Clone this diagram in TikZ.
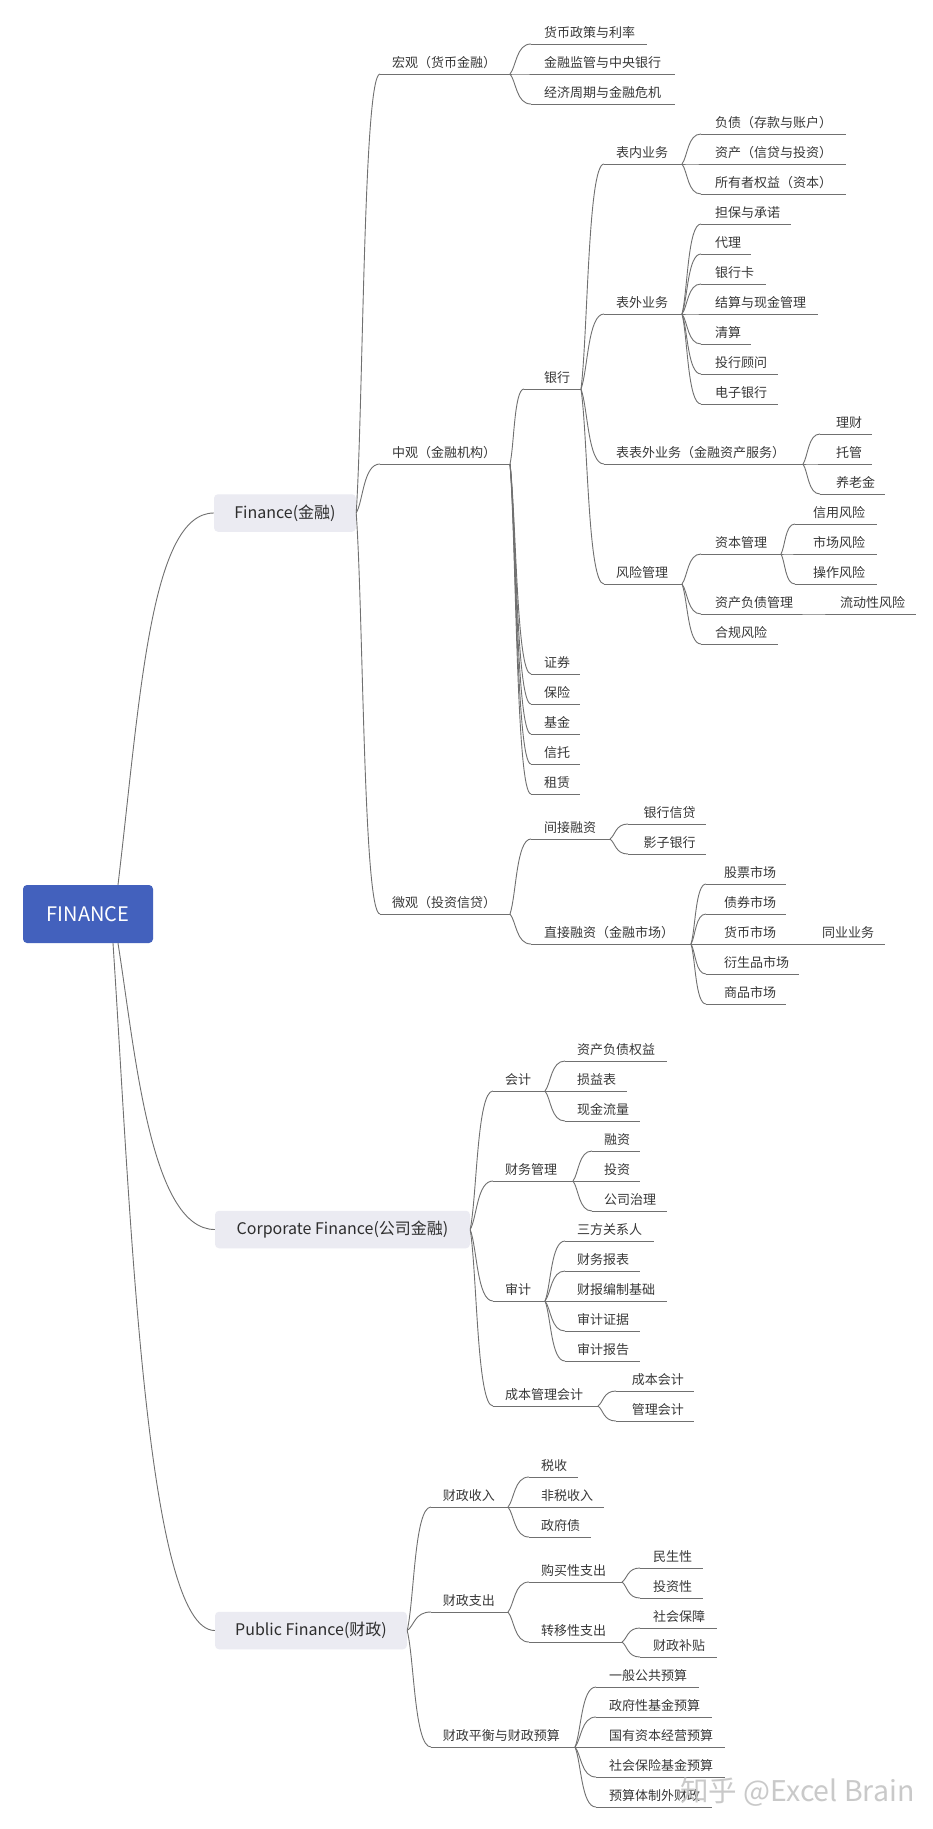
\documentclass[tikz,border=0pt]{standalone}
\usepackage{fontspec}
\setmainfont{Noto Sans CJK SC}
\usetikzlibrary{calc}
\definecolor{lnc}{HTML}{707070}
\definecolor{txc}{HTML}{383838}
\definecolor{rootc}{HTML}{4361BD}
\definecolor{boxc}{HTML}{EBEBF2}
\definecolor{wmc}{HTML}{C4C4C4}
\tikzset{
  txtsty/.style={font=\fontsize{13}{15}\selectfont, text=txc, inner sep=0pt},
  ulsty/.style={draw=lnc, line width=0.9pt},
  consty/.style={draw=lnc, line width=0.9pt},
  rootsty/.style={fill=rootc, rounded corners=4pt, minimum width=130pt, minimum height=58pt,
    text=white, font=\fontsize{20}{24}\selectfont, inner sep=0pt},
  boxsty/.style={fill=boxc, rounded corners=4pt, minimum height=37.5pt,
    text=txc!80!black, font=\fontsize{16}{19}\selectfont, inner sep=0pt}
}
% name, left x, underline y, right x, text x, text
\newcommand\mnode[6]{%
  \coordinate (#1L) at (#2,#3);
  \coordinate (#1R) at (#4,#3);
  \node[txtsty, anchor=base west] (#1) at (#5,#3-6.5) {#6};
  \draw[ulsty] (#1L) -- (#1R);
}
\newcommand\mconn[2]{%
  \draw[consty] let \p1=(#1R), \p2=(#2L) in
    (\p1) .. controls ({\x1+0.3*(\x2-\x1)},{\y1+0.25*(\y2-\y1)}) and ({\x1+0.3*(\x2-\x1)},{\y2}) .. (\p2);
}
\begin{document}
\begin{tikzpicture}[x=1pt, y=-1pt]
\useasboundingbox (0,0) rectangle (933,1829);
\fill[white] (0,0) rectangle (933,1829);

% main boxes
\node[rootsty] (root) at (88,914) {FINANCE};
\node[boxsty, minimum width=142pt] (fin) at (285,513) {Finance(金融)};
\node[boxsty, minimum width=255pt] (corp) at (342.5,1229.5) {Corporate Finance(公司金融)};
\node[boxsty, minimum width=192pt] (pub) at (311,1630.5) {Public Finance(财政)};
\coordinate (finR) at (fin.east);
\coordinate (corpR) at (corp.east);
\coordinate (pubR) at (pub.east);

\draw[consty] ([xshift=30pt]root.north) .. controls (140,700) and (150,513) .. (fin.west);
\draw[consty] ([xshift=30pt]root.south) .. controls (135,1050) and (150,1229.5) .. (corp.west);
\draw[consty] ([xshift=25pt]root.south) .. controls (130,1200) and (145,1630.5) .. (pub.west);

% ---------- Finance ----------
\mnode{macro}{380}{74}{510}{392}{宏观（货币金融）}
\mnode{meso}{380}{464}{510}{392}{中观（金融机构）}
\mnode{micro}{380}{914}{510}{392}{微观（投资信贷）}
\mconn{fin}{macro}\mconn{fin}{meso}\mconn{fin}{micro}

\mnode{ma}{531}{44}{647}{544}{货币政策与利率}
\mnode{mb}{531}{74}{675}{544}{金融监管与中央银行}
\mnode{mc}{531}{104}{675}{544}{经济周期与金融危机}
\mconn{macro}{ma}\mconn{macro}{mb}\mconn{macro}{mc}

\mnode{bank}{524}{389}{581}{544}{银行}
\mnode{sec}{531}{674}{580}{544}{证券}
\mnode{ins}{531}{704}{580}{544}{保险}
\mnode{fund}{531}{734}{580}{544}{基金}
\mnode{trust}{531}{764}{580}{544}{信托}
\mnode{lease}{531}{794}{580}{544}{租赁}
\mconn{meso}{bank}\mconn{meso}{sec}\mconn{meso}{ins}\mconn{meso}{fund}\mconn{meso}{trust}\mconn{meso}{lease}

\mnode{onb}{604}{164}{682}{616}{表内业务}
\mnode{offb}{604}{314}{682}{616}{表外业务}
\mnode{offo}{604}{464}{803}{616}{表表外业务（金融资产服务）}
\mnode{risk}{604}{584}{682}{616}{风险管理}
\mconn{bank}{onb}\mconn{bank}{offb}\mconn{bank}{offo}\mconn{bank}{risk}

\mnode{oa}{701}{134}{846}{715}{负债（存款与账户）}
\mnode{ob}{701}{164}{846}{715}{资产（信贷与投资）}
\mnode{oc}{701}{194}{846}{715}{所有者权益（资本）}
\mconn{onb}{oa}\mconn{onb}{ob}\mconn{onb}{oc}

\mnode{fa}{701}{224}{791}{715}{担保与承诺}
\mnode{fb}{701}{254}{751}{715}{代理}
\mnode{fc}{701}{284}{766}{715}{银行卡}
\mnode{fd}{701}{314}{818}{715}{结算与现金管理}
\mnode{fe}{701}{344}{751}{715}{清算}
\mnode{ff}{701}{374}{778}{715}{投行顾问}
\mnode{fg}{701}{404}{778}{715}{电子银行}
\mconn{offb}{fa}\mconn{offb}{fb}\mconn{offb}{fc}\mconn{offb}{fd}\mconn{offb}{fe}\mconn{offb}{ff}\mconn{offb}{fg}

\mnode{ga}{820}{434}{872}{836}{理财}
\mnode{gb}{820}{464}{872}{836}{托管}
\mnode{gc}{820}{494}{885}{836}{养老金}
\mconn{offo}{ga}\mconn{offo}{gb}\mconn{offo}{gc}

\mnode{capm}{701}{554}{781}{715}{资本管理}
\mnode{alm}{701}{614}{801}{715}{资产负债管理}
\mnode{comp}{701}{644}{778}{715}{合规风险}
\mconn{risk}{capm}\mconn{risk}{alm}\mconn{risk}{comp}

\mnode{ra}{795}{524}{877}{813}{信用风险}
\mnode{rb}{795}{554}{877}{813}{市场风险}
\mnode{rc}{795}{584}{877}{813}{操作风险}
\mconn{capm}{ra}\mconn{capm}{rb}\mconn{capm}{rc}
\mnode{liq}{827}{614}{916}{840}{流动性风险}
\mconn{alm}{liq}

\mnode{indir}{531}{839}{610}{544}{间接融资}
\mnode{dir}{531}{944}{691}{544}{直接融资（金融市场）}
\mconn{micro}{indir}\mconn{micro}{dir}

\mnode{ia}{628}{824}{706}{643.5}{银行信贷}
\mnode{ib}{628}{854}{706}{643.5}{影子银行}
\mconn{indir}{ia}\mconn{indir}{ib}

\mnode{da}{706}{884}{786}{724}{股票市场}
\mnode{db}{706}{914}{786}{724}{债券市场}
\mnode{dc}{706}{944}{808}{724}{货币市场}
\mnode{dd}{706}{974}{799}{724}{衍生品市场}
\mnode{de}{706}{1004}{786}{724}{商品市场}
\mconn{dir}{da}\mconn{dir}{db}\mconn{dir}{dc}\mconn{dir}{dd}\mconn{dir}{de}
\mnode{interb}{809}{944}{885}{822}{同业业务}
\mconn{dc}{interb}

% ---------- Corporate Finance ----------
\mnode{acct}{493}{1091}{545}{505}{会计}
\mnode{fm}{493}{1181}{573}{505}{财务管理}
\mnode{aud}{493}{1301}{545}{505}{审计}
\mnode{cma}{493}{1406}{598}{505}{成本管理会计}
\mconn{corp}{acct}\mconn{corp}{fm}\mconn{corp}{aud}\mconn{corp}{cma}

\mnode{aa}{565}{1061}{667}{577}{资产负债权益}
\mnode{ab}{565}{1091}{627}{577}{损益表}
\mnode{ac}{565}{1121}{640}{577}{现金流量}
\mconn{acct}{aa}\mconn{acct}{ab}\mconn{acct}{ac}

\mnode{fma}{592}{1151}{640}{604}{融资}
\mnode{fmb}{592}{1181}{640}{604}{投资}
\mnode{fmc}{592}{1211}{667}{604}{公司治理}
\mconn{fm}{fma}\mconn{fm}{fmb}\mconn{fm}{fmc}

\mnode{ua}{565}{1241}{654}{577}{三方关系人}
\mnode{ub}{565}{1271}{640}{577}{财务报表}
\mnode{uc}{565}{1301}{667}{577}{财报编制基础}
\mnode{ud}{565}{1331}{640}{577}{审计证据}
\mnode{ue}{565}{1361}{640}{577}{审计报告}
\mconn{aud}{ua}\mconn{aud}{ub}\mconn{aud}{uc}\mconn{aud}{ud}\mconn{aud}{ue}

\mnode{ca}{616}{1391}{694}{631.6}{成本会计}
\mnode{cb}{616}{1421}{694}{631.6}{管理会计}
\mconn{cma}{ca}\mconn{cma}{cb}

% ---------- Public Finance ----------
\mnode{rev}{431}{1507}{508}{442.6}{财政收入}
\mnode{exp}{431}{1612}{508}{442.6}{财政支出}
\mnode{bud}{431}{1747}{575}{442.6}{财政平衡与财政预算}
\mconn{pub}{rev}\mconn{pub}{exp}\mconn{pub}{bud}

\mnode{va}{529}{1477}{578}{541}{税收}
\mnode{vb}{529}{1507}{604}{541}{非税收入}
\mnode{vc}{529}{1537}{591}{541}{政府债}
\mconn{rev}{va}\mconn{rev}{vb}\mconn{rev}{vc}

\mnode{pur}{529}{1582}{622}{541}{购买性支出}
\mnode{tra}{529}{1642}{622}{541}{转移性支出}
\mconn{exp}{pur}\mconn{exp}{tra}

\mnode{pa}{640}{1568}{703}{653}{民生性}
\mnode{pb}{640}{1598}{703}{653}{投资性}
\mconn{pur}{pa}\mconn{pur}{pb}
\mnode{ta}{640}{1628}{717}{653}{社会保障}
\mnode{tb}{640}{1657}{717}{653}{财政补贴}
\mconn{tra}{ta}\mconn{tra}{tb}

\mnode{ba}{596}{1687}{699}{609}{一般公共预算}
\mnode{bb}{596}{1717}{712}{609}{政府性基金预算}
\mnode{bc}{596}{1747}{725}{609}{国有资本经营预算}
\mnode{bd}{596}{1777}{725}{609}{社会保险基金预算}
\mnode{be}{596}{1807}{712}{609}{预算体制外财政}
\mconn{bud}{ba}\mconn{bud}{bb}\mconn{bud}{bc}\mconn{bud}{bd}\mconn{bud}{be}

% watermark
\node[font=\fontsize{28.5}{32}\selectfont, text=wmc, opacity=0.9, inner sep=0pt, anchor=west] (wm) at (680,1792) {知乎 @Excel Brain};
\end{tikzpicture}
\end{document}
